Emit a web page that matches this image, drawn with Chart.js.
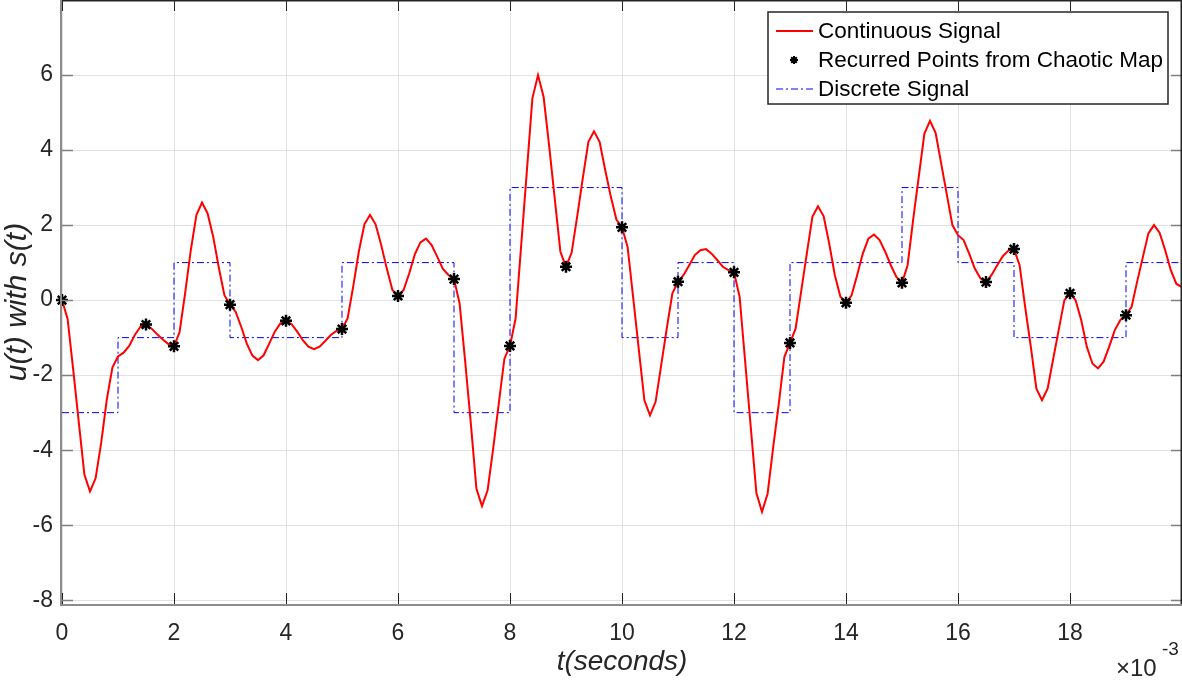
<!DOCTYPE html>
<html>
<head>
<meta charset="utf-8">
<script src="https://cdn.jsdelivr.net/npm/chart.js@4"></script>
<style>
  html, body { margin: 0; padding: 0; background: #fff; }
  #wrap { width: 1182px; height: 680px; }
</style>
</head>
<body>
<div id="wrap"><canvas id="sig"></canvas></div>
<script>
// continuous signal, sampled every 0.1 (x10^-3 s) from 0 to 20
const sampleStep = 0.1;
const continuous = [
  0, -0.5, -1.85, -3.26, -4.65, -5.1, -4.75, -3.8, -2.65, -1.8,
  -1.5, -1.4, -1.22, -0.93, -0.71, -0.65, -0.76, -0.91, -1.05, -1.17,
  -1.23, -0.85, 0.2, 1.33, 2.27, 2.6, 2.31, 1.69, 0.87, 0.13,
  -0.12, -0.31, -0.71, -1.16, -1.48, -1.6, -1.47, -1.16, -0.84, -0.62,
  -0.55, -0.64, -0.84, -1.07, -1.24, -1.31, -1.24, -1.09, -0.93, -0.82,
  -0.77, -0.49, 0.36, 1.29, 2.02, 2.27, 2.02, 1.47, 0.84, 0.27,
  0.11, 0.27, 0.71, 1.22, 1.54, 1.64, 1.47, 1.16, 0.84, 0.67,
  0.56, -0.09, -1.64, -3.28, -5.02, -5.49, -5.07, -3.95, -2.75, -1.56,
  -1.22, -0.49, 1.47, 3.42, 5.38, 6.0, 5.42, 4.1, 2.69, 1.29,
  0.89, 1.26, 2.23, 3.25, 4.22, 4.5, 4.22, 3.47, 2.76, 2.15,
  1.94, 1.42, 0.06, -1.31, -2.67, -3.07, -2.71, -1.73, -0.75, 0.18,
  0.49, 0.67, 0.93, 1.2, 1.33, 1.36, 1.24, 1.07, 0.89, 0.8,
  0.74, 0.09, -1.65, -3.4, -5.14, -5.64, -5.16, -3.92, -2.76, -1.51,
  -1.14, -0.76, 0.24, 1.24, 2.22, 2.5, 2.24, 1.51, 0.67, 0.09,
  -0.07, 0.13, 0.67, 1.24, 1.64, 1.75, 1.6, 1.29, 0.93, 0.62,
  0.46, 0.93, 2.15, 3.3, 4.44, 4.78, 4.46, 3.64, 2.82, 2.0,
  1.73, 1.6, 1.24, 0.84, 0.58, 0.48, 0.67, 0.93, 1.17, 1.32,
  1.36, 0.93, -0.19, -1.24, -2.36, -2.67, -2.36, -1.57, -0.78, 0,
  0.18, 0, -0.53, -1.24, -1.69, -1.82, -1.64, -1.24, -0.8, -0.53,
  -0.4, -0.18, 0.5, 1.14, 1.78, 2.0, 1.8, 1.33, 0.8, 0.43,
  0.35
];

// recurred points from the chaotic map
const pointTimes = [0, 1.5, 2, 3, 4, 5, 6, 7, 8, 9, 10, 11, 12, 13, 14, 15, 16.5, 17, 18, 19];
const pointValues = [0, -0.65, -1.23, -0.12, -0.55, -0.77, 0.11, 0.56, -1.22, 0.89,
                     1.94, 0.49, 0.74, -1.14, -0.07, 0.46, 0.48, 1.36, 0.18, -0.4];

// discrete signal, one level per unit interval (last one repeated to close the step)
const stepTimes = [0, 1, 2, 3, 4, 5, 6, 7, 8, 9, 10, 11, 12, 13, 14, 15, 16, 17, 18, 19, 20];
const stepValues = [-3, -1, 1, -1, -1, 1, 1, -3, 3, 3, -1, 1, -3, 1, 1, 3, 1, -1, -1, 1, 1];

const xTicks = [0, 2, 4, 6, 8, 10, 12, 14, 16, 18];
const yTicks = [-8, -6, -4, -2, 0, 2, 4, 6];

const FONT = "'Liberation Sans', Arial, Helvetica, sans-serif";

const contData = continuous.map((v, i) => ({x: +(i * sampleStep).toFixed(1), y: v}));
const ptData = pointTimes.map((t, i) => ({x: t, y: pointValues[i]}));
const stepData = stepTimes.map((t, i) => ({x: t, y: stepValues[i]}));

// axes box, inner ticks, legend and the x10^-3 factor, matlab style
const matlabAxes = {
  id: 'matlabAxes',
  afterDraw(chart) {
    const {ctx, chartArea: a, scales} = chart;
    const xs = scales.x, ys = scales.y;
    ctx.save();
    // ticks
    ctx.lineWidth = 1;
    ctx.strokeStyle = '#262626';
    xTicks.forEach(t => {
      const px = Math.round(xs.getPixelForValue(t)) + 0.5;
      ctx.beginPath();
      ctx.moveTo(px, a.top); ctx.lineTo(px, a.top + 11);
      ctx.moveTo(px, a.bottom); ctx.lineTo(px, a.bottom - 11);
      ctx.stroke();
    });
    ctx.strokeStyle = '#808080';
    ctx.lineWidth = 1.5;
    yTicks.forEach(v => {
      const py = Math.round(ys.getPixelForValue(v)) + 0.5;
      ctx.beginPath();
      ctx.moveTo(a.left, py); ctx.lineTo(a.left + 11, py);
      ctx.moveTo(a.right, py); ctx.lineTo(a.right - 11, py);
      ctx.stroke();
    });
    // box
    ctx.strokeStyle = '#262626';
    ctx.lineWidth = 1.5;
    ctx.beginPath();
    ctx.moveTo(a.left, a.top + 0.75); ctx.lineTo(a.right, a.top + 0.75);
    ctx.moveTo(a.right - 0.75, a.top); ctx.lineTo(a.right - 0.75, a.bottom);
    ctx.stroke();
    ctx.strokeStyle = '#8c8c8c';
    ctx.lineWidth = 2;
    ctx.beginPath();
    ctx.moveTo(a.left - 1, a.top); ctx.lineTo(a.left - 1, a.bottom + 1);
    ctx.lineTo(a.right, a.bottom + 1);
    ctx.stroke();

    // legend
    const lx = 768, ly = 12, lw = 400, lh = 92;
    ctx.fillStyle = '#fff';
    ctx.fillRect(lx, ly, lw, lh);
    ctx.strokeStyle = '#262626';
    ctx.lineWidth = 1.5;
    ctx.strokeRect(lx, ly, lw, lh);
    ctx.font = '22.5px ' + FONT;
    ctx.textBaseline = 'middle';
    ctx.textAlign = 'left';
    const rows = [31, 60, 89];
    chart.data.datasets.forEach((ds, i) => {
      const ry = ly + rows[i] - 12;
      ctx.save();
      if (ds.showLine === false) {
        ctx.strokeStyle = '#000';
        ctx.lineWidth = 2;
        const cx = 794, r = 4;
        ctx.beginPath();
        for (let k = 0; k < 4; k++) {
          const ang = k * Math.PI / 4;
          ctx.moveTo(cx - r * Math.cos(ang), ry - r * Math.sin(ang));
          ctx.lineTo(cx + r * Math.cos(ang), ry + r * Math.sin(ang));
        }
        ctx.stroke();
      } else {
        ctx.strokeStyle = ds.borderColor;
        ctx.lineWidth = ds.borderWidth;
        ctx.setLineDash(ds.borderDash || []);
        ctx.beginPath();
        ctx.moveTo(776, ry); ctx.lineTo(813, ry);
        ctx.stroke();
      }
      ctx.restore();
      ctx.fillStyle = '#000';
      ctx.fillText(ds.label, 818, ry + 1);
    });

    // exponent
    ctx.fillStyle = '#262626';
    ctx.textBaseline = 'alphabetic';
    ctx.textAlign = 'left';
    ctx.font = '24px ' + FONT;
    ctx.fillText('\u00d710', 1116, 676);
    ctx.font = '19px ' + FONT;
    ctx.fillText('-3', 1162, 655);
    ctx.restore();
  }
};

new Chart(document.getElementById('sig'), {
  type: 'line',
  data: {
    datasets: [
      {
        label: 'Continuous Signal',
        data: contData,
        borderColor: '#ff0000',
        borderWidth: 2,
        pointRadius: 0,
        tension: 0,
        order: 1
      },
      {
        label: 'Recurred Points from Chaotic Map',
        data: ptData,
        showLine: false,
        clip: false,
        pointStyle: 'star',
        pointRadius: 6,
        pointBorderWidth: 2.5,
        pointBorderColor: '#000',
        pointBackgroundColor: '#000',
        borderColor: '#000',
        order: 0
      },
      {
        label: 'Discrete Signal',
        data: stepData,
        stepped: 'before',
        borderColor: '#0000ff',
        borderWidth: 1,
        borderDash: [7, 3, 2, 3],
        pointRadius: 0,
        order: 2
      }
    ]
  },
  options: {
    responsive: true,
    maintainAspectRatio: false,
    animation: false,
    layout: { padding: 0, autoPadding: false },
    plugins: {
      legend: { display: false },
      tooltip: { enabled: false }
    },
    scales: {
      x: {
        type: 'linear',
        min: 0,
        max: 20,
        afterBuildTicks(scale) { scale.ticks = xTicks.map(v => ({value: v})); },
        afterFit(scale) {
          scale.height = 76;
          scale.paddingLeft = 0; scale.paddingRight = 0;
        },
        grid: { color: '#e2e2e2', lineWidth: 1, drawTicks: false },
        border: { display: false },
        ticks: { color: '#262626', font: { family: FONT, size: 23 }, padding: 16, maxRotation: 0 },
        title: {
          display: true,
          text: 't(seconds)',
          color: '#262626',
          font: { family: FONT, size: 28, style: 'italic' },
          padding: { top: 0, bottom: 1 }
        }
      },
      y: {
        type: 'linear',
        min: -8.1,
        max: 8,
        afterBuildTicks(scale) { scale.ticks = yTicks.map(v => ({value: v})); },
        afterFit(scale) {
          scale.width = 62;
          scale.paddingTop = 0; scale.paddingBottom = 0;
        },
        grid: { color: '#e2e2e2', lineWidth: 1, drawTicks: false },
        border: { display: false },
        ticks: { color: '#262626', font: { family: FONT, size: 23 }, padding: 9 },
        title: {
          display: true,
          text: 'u(t) with s(t)',
          color: '#262626',
          font: { family: FONT, size: 30, style: 'italic' },
          padding: { top: 0, bottom: 0 }
        }
      }
    }
  },
  plugins: [matlabAxes]
});
</script>
</body>
</html>
